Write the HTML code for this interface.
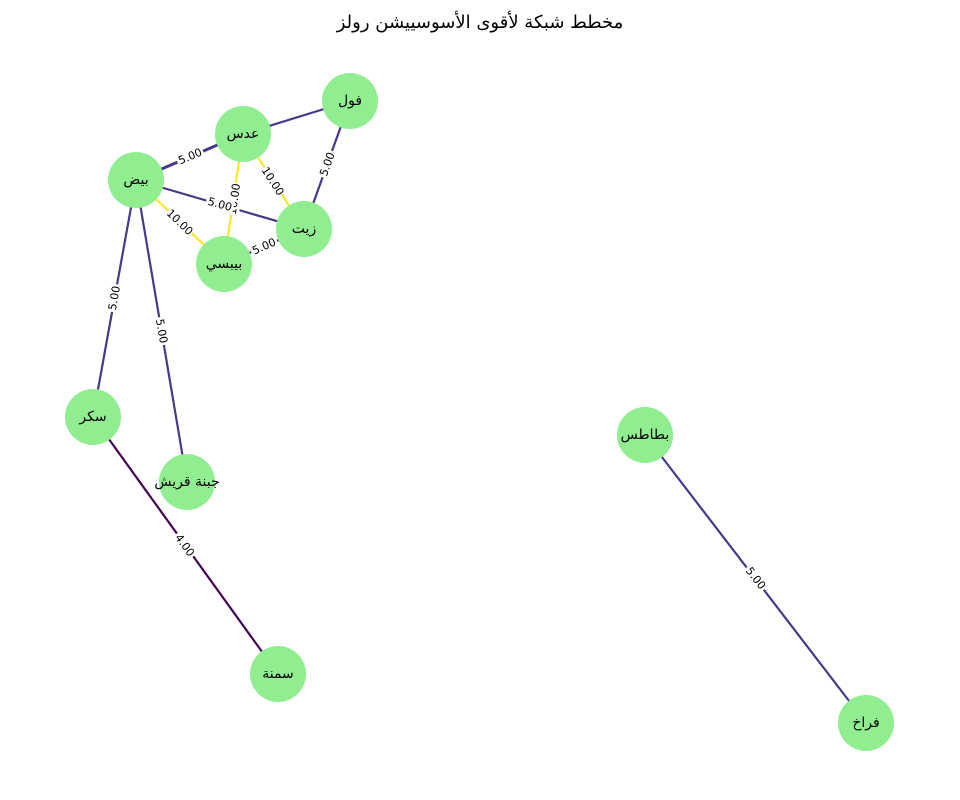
<!DOCTYPE html>
<html><head><meta charset="utf-8"><style>
html,body{margin:0;padding:0;background:#fff;}
svg{display:block;}
text{font-family:"DejaVu Sans","Liberation Sans","Noto Sans CJK SC",sans-serif;}
</style></head><body>
<svg width="960" height="800" viewBox="0 0 960 800" xmlns="http://www.w3.org/2000/svg">
<text x="480" y="28" font-size="18" text-anchor="middle" fill="#000">مخطط شبكة لأقوى الأسوسييشن رولز</text>
<g stroke-width="2.2" fill="none">
<line x1="136" y1="180" x2="243" y2="134" stroke="#46398a" stroke-width="3"/>
<line x1="243" y1="134" x2="350" y2="101" stroke="#46398a"/>
<line x1="350" y1="101" x2="304" y2="229" stroke="#46398a"/>
<line x1="243" y1="134" x2="304" y2="229" stroke="#fde725"/>
<line x1="243" y1="134" x2="224" y2="264" stroke="#fde725"/>
<line x1="136" y1="180" x2="304" y2="229" stroke="#46398a"/>
<line x1="136" y1="180" x2="224" y2="264" stroke="#fde725"/>
<line x1="224" y1="264" x2="304" y2="229" stroke="#46398a"/>
<line x1="136" y1="180" x2="93" y2="417" stroke="#46398a"/>
<line x1="136" y1="180" x2="187" y2="482" stroke="#46398a"/>
<line x1="93" y1="417" x2="278" y2="674" stroke="#440154"/>
<line x1="645" y1="435" x2="866" y2="723" stroke="#46398a"/>
</g>
<g font-size="11" text-anchor="middle" fill="#000">
<g transform="translate(234,199) rotate(-82)"><rect x="-16" y="-7" width="32" height="14" fill="#fff"/><text y="4">10.00</text></g>
<g transform="translate(190,156) rotate(-23)"><rect x="-14" y="-7" width="28" height="14" fill="#fff"/><text y="4">5.00</text></g>
<g transform="translate(327,164) rotate(-70)"><rect x="-14" y="-7" width="28" height="14" fill="#fff"/><text y="4">5.00</text></g>
<g transform="translate(273,181) rotate(57)"><rect x="-16" y="-7" width="32" height="14" fill="#fff"/><text y="4">10.00</text></g>
<g transform="translate(220,204) rotate(16)"><rect x="-14" y="-7" width="28" height="14" fill="#fff"/><text y="4">5.00</text></g>
<g transform="translate(180,222) rotate(44)"><rect x="-16" y="-7" width="32" height="14" fill="#fff"/><text y="4">10.00</text></g>
<g transform="translate(264,246) rotate(-24)"><rect x="-14" y="-7" width="28" height="14" fill="#fff"/><text y="4">5.00</text></g>
<g transform="translate(114,298) rotate(-80)"><rect x="-14" y="-7" width="28" height="14" fill="#fff"/><text y="4">5.00</text></g>
<g transform="translate(162,331) rotate(80)"><rect x="-14" y="-7" width="28" height="14" fill="#fff"/><text y="4">5.00</text></g>
<g transform="translate(185,545) rotate(54)"><rect x="-14" y="-7" width="28" height="14" fill="#fff"/><text y="4">4.00</text></g>
<g transform="translate(756,578) rotate(52)"><rect x="-14" y="-7" width="28" height="14" fill="#fff"/><text y="4">5.00</text></g>
</g>
<g fill="#90ee90">
<circle cx="350" cy="101" r="28"/><circle cx="243" cy="134" r="28"/><circle cx="136" cy="180" r="28"/>
<circle cx="304" cy="229" r="28"/><circle cx="224" cy="264" r="28"/><circle cx="93" cy="417" r="28"/>
<circle cx="187" cy="482" r="28"/><circle cx="278" cy="674" r="28"/><circle cx="645" cy="435" r="28"/>
<circle cx="866" cy="723" r="28"/>
</g>
<g font-size="14" text-anchor="middle" fill="#000">
<text x="350" y="105">فول</text>
<text x="243" y="138">عدس</text>
<text x="136" y="184">بيض</text>
<text x="304" y="233">زيت</text>
<text x="224" y="268">بيبسي</text>
<text x="93" y="421">سكر</text>
<text x="187" y="486">جبنة قريش</text>
<text x="278" y="678">سمنة</text>
<text x="645" y="439">بطاطس</text>
<text x="866" y="727">فراخ</text>
</g>
</svg>
</body></html>
